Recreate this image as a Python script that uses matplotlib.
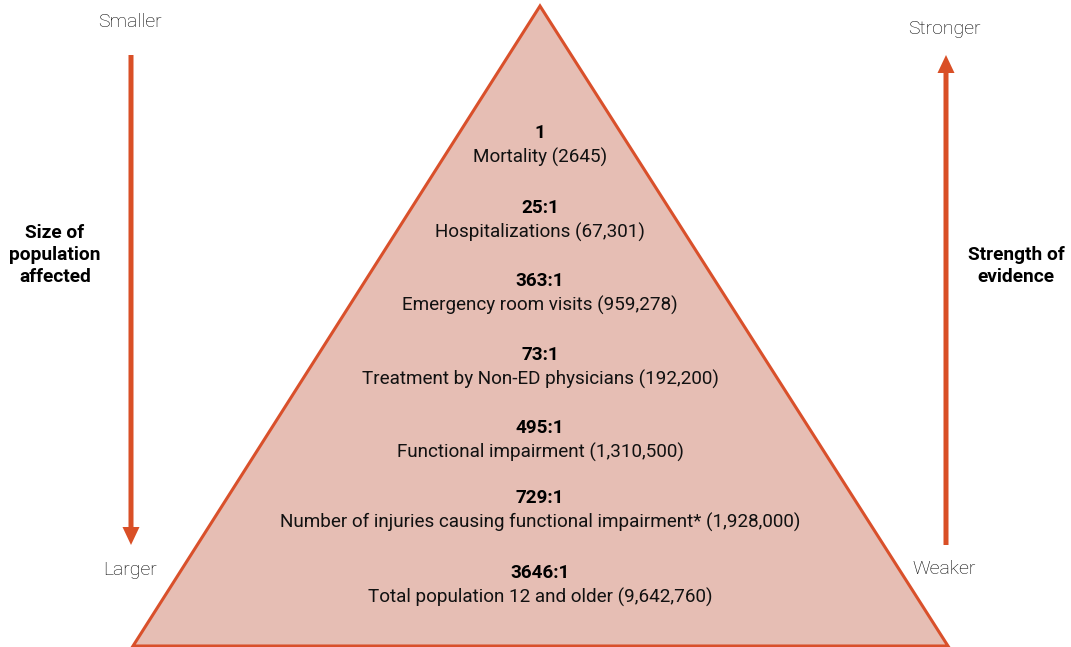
import matplotlib
matplotlib.use("Agg")
import matplotlib.pyplot as plt
from matplotlib.patches import Polygon, FancyArrow

ratios = ["1", "25:1", "363:1", "73:1", "495:1", "729:1", "3646:1"]
labels = ["Mortality (2645)", "Hospitalizations (67,301)", "Emergency room visits (959,278)",
          "Treatment by Non-ED physicians (192,200)", "Functional impairment (1,310,500)",
          "Number of injuries causing functional impairment* (1,928,000)",
          "Total population 12 and older (9,642,760)"]
ratio_y = [133, 208, 281, 355, 428, 498, 573]

W, H = 1071, 647
fig = plt.figure(figsize=(W / 100, H / 100), dpi=100)
ax = fig.add_axes([0, 0, 1, 1])
ax.set_xlim(0, W)
ax.set_ylim(H, 0)
ax.axis("off")

fill = "#E6BEB4"
edge = "#D9502B"
arrow_c = "#D94F26"
font = "Roboto"

tri = Polygon([(133, 646), (540, 6), (948, 646)], closed=True, facecolor=fill,
              edgecolor=edge, linewidth=2.2, joinstyle="miter")
ax.add_patch(tri)

for r, lab, y in zip(ratios, labels, ratio_y):
    ax.text(540, y, r, ha="center", va="center", fontsize=13.6, fontweight="bold",
            family=font, color="#000000")
    ax.text(540, y + 24, lab, ha="center", va="center", fontsize=13.6,
            family=font, color="#111111")

# left arrow (down)
ax.add_patch(FancyArrow(131, 55, 0, 490, width=5, head_width=17, head_length=18,
                        length_includes_head=True, color=arrow_c, linewidth=0))
# right arrow (up)
ax.add_patch(FancyArrow(946, 545, 0, -490, width=5, head_width=17, head_length=18,
                        length_includes_head=True, color=arrow_c, linewidth=0))

small = dict(ha="center", va="center", fontsize=14, family=font, fontweight="light",
             color="#000000")
ax.text(130, 22, "Smaller", **small)
ax.text(130, 570, "Larger", **small)
ax.text(944, 29, "Stronger", **small)
ax.text(944, 569, "Weaker", **small)

big = dict(ha="center", va="center", fontsize=13.8, family=font, fontweight="bold",
           color="#000000", linespacing=1.25)
ax.text(55, 255, "Size of\npopulation\naffected", **big)
ax.text(1016, 266, "Strength of\nevidence", **big)

fig.savefig("out.png", dpi=100)
